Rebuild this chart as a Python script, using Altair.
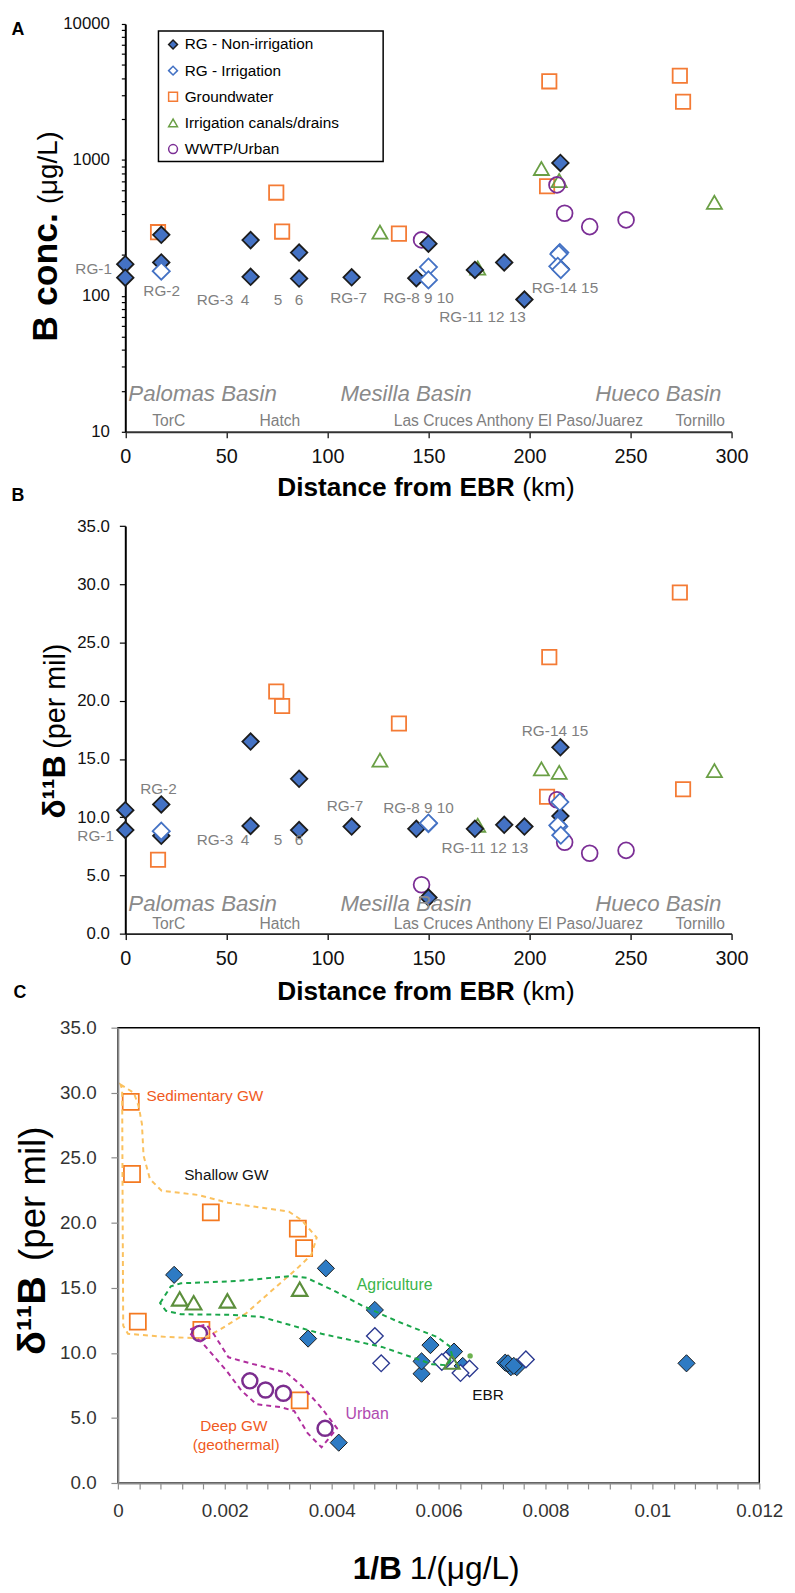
import altair as alt
import pandas as pd

FONT = "Liberation Sans"
W, H = 787, 1585


def P(v):
    return v - 8


CATS = ["RG - Non-irrigation", "RG - Irrigation", "Groundwater",
        "Irrigation canals/drains", "WWTP/Urban"]

# ---------------- samples (distance km, B conc ug/L, d11B per mil) ----------------
rgn_km = [0, 0, 17.8, 17.8, 62, 62, 86, 86, 112, 144, 150, 173, 187.5, 197.5, 215.3, 215.3]
rgn_b = [171, 136, 281, 176, 257, 138, 208, 134, 137, 135, 242, 155, 176, 94, 950, 159]
rgn_d = [10.6, 8.9, 11.1, 8.4, 16.5, 9.25, 13.3, 8.9, 9.2, 9.0, 3.1, 9.0, 9.35, 9.2, 16.0, 10.1]

rgi_km = [17.8, 150, 150, 215, 214.5, 214, 215.5]
rgi_b = [152, 163, 131, 208, 203, 165, 156]
rgi_d = [8.8, 9.45, 9.5, 11.3, 9.2, 9.3, 8.45]

gw_km = [16.2, 74.7, 77.6, 135.4, 208.7, 209.8, 274.4, 276.0]
gw_b = [294, 575, 297, 287, 640, 3785, 4160, 2680]
gw_d = [6.35, 20.8, 19.55, 18.05, 11.76, 23.75, 29.3, 12.4]

can_km = [126, 174.4, 205.9, 214.7, 291.5]
can_b = [294, 160, 865, 705, 488]
can_d = [14.9, 9.3, 14.15, 13.85, 14.0]

ww_km = [146.6, 213.6, 217.4, 229.8, 247.8]
ww_b = [258, 655, 405, 323, 362]
ww_d = [4.2, 11.5, 7.85, 6.9, 7.15]

# ---------------- annotation texts ----------------
labA_c_txt = ["RG-2", "RG-3", "4", "5", "6", "RG-7"]
labA_c_km = [18, 44.4, 59.2, 75.6, 85.9, 110.5]
labA_c_b = [109, 93.5, 93.5, 93.5, 93.5, 97]
labA_l_txt = ["RG-8 9 10", "RG-11 12 13", "RG-14 15"]
labA_l_km = [127.6, 155.3, 201.1]
labA_l_b = [97, 70, 115]
labA_r_txt = ["RG-1"]
labA_r_km = [-6.6]
labA_r_b = [158]

labB_c_txt = ["RG-2", "RG-3", "4", "5", "6", "RG-7"]
labB_c_km = [16.4, 44.4, 59.2, 75.6, 85.9, 108.7]
labB_c_d = [12.4, 8.0, 8.0, 8.0, 8.0, 10.97]
labB_l_txt = ["RG-8 9 10", "RG-11 12 13", "RG-14 15"]
labB_l_km = [127.6, 156.5, 196.2]
labB_l_d = [10.77, 7.37, 17.37]
labB_r_txt = ["RG-1"]
labB_r_km = [-5.6]
labB_r_d = [8.35]

basin_txt = ["Palomas Basin", "Mesilla Basin", "Hueco Basin"]
basin_km = [1.5, 106.5, 232.5]
basinA_b = [18.8, 18.8, 18.8]
basinB_d = [2.55, 2.55, 2.55]

town_txt = ["TorC", "Hatch", "Las Cruces Anthony El Paso/Juarez", "Tornillo"]
town_km = [21.5, 76.5, 194.5, 284.5]
townA_b = [12.06, 12.06, 12.06, 12.06]
townB_d = [0.85, 0.85, 0.85, 0.85]

# panel C labels (x = 1/B, y = d11B)
labC_orange_txt = ["Sedimentary GW", "Deep GW", "(geothermal)"]
labC_orange_x = [0.000537, 0.00154, 0.0014]
labC_orange_y = [29.76, 4.37, 2.93]
labC_black_txt = ["Shallow GW", "EBR"]
labC_black_x = [0.00124, 0.00663]
labC_black_y = [23.67, 6.74]
labC_green_txt = ["Agriculture"]
labC_green_x = [0.00447]
labC_green_y = [15.19]
labC_purple_txt = ["Urban"]
labC_purple_x = [0.00426]
labC_purple_y = [5.29]

# dashed envelopes in panel C
env_sed_x = [0.00005, 0.0003, 0.00039, 0.00045, 0.00048, 0.0006, 0.00082, 0.0015, 0.00206,
             0.0032, 0.00344, 0.00372, 0.00362, 0.00334, 0.00287, 0.0024, 0.00193, 0.0016,
             0.0009, 0.00019, 0.0001, 0.00009, 0.00008]
env_sed_y = [30.63, 29.98, 28.94, 27.6, 25.18, 23.36, 22.46, 22.14, 21.54,
             20.86, 20.2, 18.87, 17.54, 16.44, 14.75, 13.05, 11.84, 11.11,
             11.23, 11.47, 12.08, 20.0, 30.27]
env_agr_x = [0.00079, 0.00099, 0.00118, 0.00221, 0.00325, 0.00353, 0.004, 0.00456, 0.00522,
             0.00597, 0.00621, 0.00626, 0.00616, 0.00588, 0.0056, 0.00494, 0.00381, 0.00269,
             0.00212, 0.00118, 0.0009]
env_agr_y = [13.83, 15.11, 15.35, 15.52, 15.91, 15.77, 14.87, 13.66, 12.44,
             11.23, 10.5, 9.66, 9.05, 9.12, 9.53, 10.46, 11.47, 12.76,
             12.93, 12.97, 13.24]
env_urb_x = [0.00137, 0.00165, 0.00179, 0.00207, 0.0025, 0.00315, 0.00344, 0.00381, 0.0041,
             0.00381, 0.00355, 0.0033, 0.00306, 0.00259, 0.00231, 0.00203, 0.00156, 0.00135]
env_urb_y = [11.84, 12.2, 11.47, 9.66, 9.17, 8.49, 7.47, 5.77, 4.2,
             2.74, 3.83, 5.53, 5.82, 6.06, 7.11, 8.64, 10.86, 11.47]

dot_x = [0.00659]
dot_y = [9.77]

# ---------------- build sample table ----------------
Z_AB = {CATS[2]: 0, CATS[3]: 1, CATS[4]: 2, CATS[0]: 3, CATS[1]: 4}
Z_C = {CATS[0]: 0, CATS[1]: 1, CATS[2]: 2, CATS[3]: 3, CATS[4]: 4}
rows = []
for cat, kms, bs, ds in [(CATS[0], rgn_km, rgn_b, rgn_d), (CATS[1], rgi_km, rgi_b, rgi_d),
                         (CATS[2], gw_km, gw_b, gw_d), (CATS[3], can_km, can_b, can_d),
                         (CATS[4], ww_km, ww_b, ww_d)]:
    for k, b, d in zip(kms, bs, ds):
        rows.append({"cat": cat, "km": k, "B": b, "d11B": d, "zA": Z_AB[cat], "zC": Z_C[cat]})
df = pd.DataFrame(rows)

SHAPES = ["diamond", "diamond", "square", "triangle-up", "circle"]
STROKE_AB = ["#1c1c1c", "#4472C4", "#F47B35", "#6A9F45", "#7B2E95"]
FILL_AB = ["#4472C4", "white", "transparent", "transparent", "transparent"]
# size / stroke width indexed by draw-order code (GW, canal, WWTP, RG-non, RG-irr)
SIZE_AB = [210, 300, 250, 200, 180]
SW_AB = [1.8, 1.8, 1.8, 1, 1.8]
STROKE_C = ["#1a1a1a", "#2B3990", "#F47920", "#5C8F3C", "#7B2D8E"]
FILL_C = ["#2E7BC4", "white", "transparent", "transparent", "transparent"]
# indexed by zC (RG-non, RG-irr, GW, canal, WWTP)
SIZE_C = [300, 230, 300, 420, 380]
SW_C = [1, 2.5, 2.8, 2.8, 2.8]

# page geometry of panel C
C_TOP, C_BOT = 1030, 1490

# ---------------- scales / axes ----------------
log_vals = [m * 10 ** e for e in range(1, 4) for m in range(1, 10)] + [10000]

axA_x = alt.Axis(orient="bottom", offset=P(428) - H, values=list(range(0, 301, 50)), grid=False,
                 domainColor="#333", domainWidth=2, tickColor="#333", tickWidth=1.5, tickSize=6,
                 labelFont=FONT, labelFontSize=20, labelColor="#111", labelPadding=9,
                 labelFlush=False, labelOverlap=False)
axA_y = alt.Axis(orient="left", offset=-P(126.5), values=log_vals, format="d", grid=False,
                 labelExpr="indexof([10,100,1000,10000], datum.value) >= 0 ? datum.label : ''",
                 domainColor="black", domainWidth=2, tickColor="black", tickWidth=1.2, tickSize=4,
                 labelFont=FONT, labelFontSize=17, labelColor="#111", labelPadding=12,
                 labelFlush=False, labelOverlap=False)
axB_x = alt.Axis(orient="bottom", offset=P(935) - H, values=list(range(0, 301, 50)), grid=False,
                 domainColor="#222", domainWidth=2, tickColor="#222", tickWidth=1.5, tickSize=6,
                 labelFont=FONT, labelFontSize=20, labelColor="#111", labelPadding=9,
                 labelFlush=False, labelOverlap=False)
axB_y = alt.Axis(orient="left", offset=-P(126.5), values=list(range(0, 36, 5)), format=".1f", grid=False,
                 domainColor="black", domainWidth=2, tickColor="black", tickWidth=1.2, tickSize=6,
                 labelFont=FONT, labelFontSize=17, labelColor="#111", labelPadding=10,
                 labelFlush=False, labelOverlap=False)
c_ticks = [round(i * 0.0004, 4) for i in range(31)]
axC_x = alt.Axis(orient="bottom", offset=P(C_BOT) - H, values=c_ticks, grid=False, zindex=1,
                 labelExpr="abs(datum.value*500 - round(datum.value*500)) < 0.000001 ? format(datum.value, '~g') : ''",
                 domainColor="#8c8c8c", domainWidth=2, tickColor="#8c8c8c", tickWidth=1.2, tickSize=6,
                 labelFont=FONT, labelFontSize=19, labelColor="#333", labelPadding=13,
                 labelFlush=False, labelOverlap=False)
axC_y = alt.Axis(orient="left", offset=-P(119), values=list(range(0, 36, 5)), format=".1f", grid=False,
                 zindex=1, domainColor="#8c8c8c", domainWidth=2, tickColor="#8c8c8c", tickWidth=1.2,
                 tickSize=7, labelFont=FONT, labelFontSize=19, labelColor="#333", labelPadding=15,
                 labelFlush=False, labelOverlap=False)


def xA():
    return alt.X("km:Q", title=None, axis=axA_x,
                 scale=alt.Scale(domain=[0, 300], range=[P(126.5), P(739)], nice=False, zero=False))


def yA():
    return alt.Y("B:Q", title=None, axis=axA_y,
                 scale=alt.Scale(type="log", domain=[10, 10000], range=[P(428), P(16)], nice=False))


def xB():
    return alt.X("km:Q", title=None, axis=axB_x,
                 scale=alt.Scale(domain=[0, 300], range=[P(126.5), P(739)], nice=False, zero=False))


def yB():
    return alt.Y("d11B:Q", title=None, axis=axB_y,
                 scale=alt.Scale(domain=[0, 35], range=[P(935), P(523.3)], nice=False, zero=False))


def xC():
    return alt.X("inv:Q", title=None, axis=axC_x,
                 scale=alt.Scale(domain=[0, 0.012], range=[P(119), P(767)], nice=False, zero=False))


def yC():
    return alt.Y("d11B:Q", title=None, axis=axC_y,
                 scale=alt.Scale(domain=[0, 35], range=[P(C_BOT), P(C_TOP)], nice=False, zero=False))


legA = alt.Legend(orient="none", legendX=P(160), legendY=P(22), title=None, direction="vertical",
                  strokeColor="transparent", fillColor="transparent", padding=7, rowPadding=9.4,
                  labelFont=FONT, labelFontSize=15.5, labelColor="black", labelOffset=4, labelLimit=400,
                  symbolSize=80, symbolStrokeWidth=1.5)


def points(xf, yf, stroke_r, fill_r, size_r, sw_r, zfield, legend):
    return dict(
        x=xf(), y=yf(),
        shape=alt.Shape("cat:N", scale=alt.Scale(domain=CATS, range=SHAPES), legend=legend),
        fill=alt.Fill("cat:N", scale=alt.Scale(domain=CATS, range=fill_r), legend=legend),
        stroke=alt.Stroke("cat:N", scale=alt.Scale(domain=CATS, range=stroke_r), legend=legend),
        size=alt.Size(zfield + ":O", scale=alt.Scale(domain=[0, 1, 2, 3, 4], range=size_r), legend=None),
        strokeWidth=alt.StrokeWidth(zfield + ":O", scale=alt.Scale(domain=[0, 1, 2, 3, 4], range=sw_r),
                                    legend=None),
        order=alt.Order(zfield + ":Q"),
    )


def txt_layer(data, xf, yf, **kw):
    base = dict(font=FONT, baseline="middle")
    base.update(kw)
    return alt.Chart(pd.DataFrame(data)).mark_text(**base).encode(x=xf(), y=yf(), text="t:N")


GRAY = "#7f7f7f"

# ---------------- panel A ----------------
ptsA = alt.Chart(df).mark_point(filled=True, opacity=1).encode(
    **points(xA, yA, STROKE_AB, FILL_AB, SIZE_AB, SW_AB, "zA", legA))
panelA = alt.layer(
    ptsA,
    txt_layer({"t": labA_c_txt, "km": labA_c_km, "B": labA_c_b}, xA, yA, fontSize=15.5, color=GRAY, align="center"),
    txt_layer({"t": labA_l_txt, "km": labA_l_km, "B": labA_l_b}, xA, yA, fontSize=15.5, color=GRAY, align="left"),
    txt_layer({"t": labA_r_txt, "km": labA_r_km, "B": labA_r_b}, xA, yA, fontSize=15.5, color=GRAY, align="right"),
    txt_layer({"t": basin_txt, "km": basin_km, "B": basinA_b}, xA, yA, fontSize=22.5, fontStyle="italic",
              color="#8a8a8a", align="left"),
    txt_layer({"t": town_txt, "km": town_km, "B": townA_b}, xA, yA, fontSize=15.8, color=GRAY, align="center"),
)

# ---------------- panel B ----------------
ptsB = alt.Chart(df).mark_point(filled=True, opacity=1).encode(
    **points(xB, yB, STROKE_AB, FILL_AB, SIZE_AB, SW_AB, "zA", None))
panelB = alt.layer(
    ptsB,
    txt_layer({"t": labB_c_txt, "km": labB_c_km, "d11B": labB_c_d}, xB, yB, fontSize=15.5, color=GRAY, align="center"),
    txt_layer({"t": labB_l_txt, "km": labB_l_km, "d11B": labB_l_d}, xB, yB, fontSize=15.5, color=GRAY, align="left"),
    txt_layer({"t": labB_r_txt, "km": labB_r_km, "d11B": labB_r_d}, xB, yB, fontSize=15.5, color=GRAY, align="right"),
    txt_layer({"t": basin_txt, "km": basin_km, "d11B": basinB_d}, xB, yB, fontSize=22.5, fontStyle="italic",
              color="#8a8a8a", align="left"),
    txt_layer({"t": town_txt, "km": town_km, "d11B": townB_d}, xB, yB, fontSize=15.8, color=GRAY, align="center"),
)

# ---------------- panel C ----------------
frameC = alt.Chart(pd.DataFrame({"inv": [0.0], "inv2": [0.012], "d11B": [0.0], "d2": [35.0]})).mark_rect(
    fill="transparent", stroke="black", strokeWidth=1.5).encode(x=xC(), x2="inv2:Q", y=yC(), y2="d2:Q")


def env_layer(xs, ys, color):
    d = pd.DataFrame({"inv": xs, "d11B": ys, "i": list(range(len(xs)))})
    return alt.Chart(d).mark_line(strokeDash=[5, 4], strokeWidth=2, color=color,
                                  interpolate="linear-closed").encode(x=xC(), y=yC(), order="i:Q")


ptsC = alt.Chart(df).transform_calculate(inv="1/datum.B").mark_point(filled=True, opacity=1).encode(
    **points(xC, yC, STROKE_C, FILL_C, SIZE_C, SW_C, "zC", None))
dotC = alt.Chart(pd.DataFrame({"inv": dot_x, "d11B": dot_y})).mark_circle(
    size=30, color="#6DB24F", opacity=1).encode(x=xC(), y=yC())

panelC = alt.layer(
    frameC,
    ptsC,
    dotC,
    env_layer(env_sed_x, env_sed_y, "#FBC15E"),
    env_layer(env_agr_x, env_agr_y, "#1AA64A"),
    env_layer(env_urb_x, env_urb_y, "#B02E9E"),
    txt_layer({"t": labC_orange_txt, "inv": labC_orange_x, "d11B": labC_orange_y}, xC, yC,
              fontSize=15.5, color="#F05A22", align="left"),
    txt_layer({"t": labC_black_txt, "inv": labC_black_x, "d11B": labC_black_y}, xC, yC,
              fontSize=15.5, color="#111", align="left"),
    txt_layer({"t": labC_green_txt, "inv": labC_green_x, "d11B": labC_green_y}, xC, yC,
              fontSize=16, color="#3BB44A", align="left"),
    txt_layer({"t": labC_purple_txt, "inv": labC_purple_x, "d11B": labC_purple_y}, xC, yC,
              fontSize=16, color="#B04AB0", align="left"),
)


# ---------------- titles, panel letters, legend frame ----------------
def ptext(t, xpage, ypage, **kw):
    base = dict(font=FONT, color="black")
    base.update(kw)
    return alt.Chart(pd.DataFrame({"t": [t]})).mark_text(**base).encode(
        x=alt.value(P(xpage)), y=alt.value(P(ypage)), text="t:N")


legend_frame = alt.Chart(pd.DataFrame({"t": ["frame"]})).mark_rect(
    fill="white", stroke="black", strokeWidth=1.5).encode(
    x=alt.value(P(160)), x2=alt.value(P(387)), y=alt.value(P(23)), y2=alt.value(P(155)))

titles = [
    ptext("A", 18, 22, fontSize=18, fontWeight="bold", align="center", baseline="middle"),
    ptext("B", 18, 493, fontSize=18, fontWeight="bold", align="center", baseline="middle"),
    ptext("C", 20, 995, fontSize=18, fontWeight="bold", align="center", baseline="middle"),
    # panel A
    ptext("B conc.", 57, 337, fontSize=36, fontWeight="bold", angle=270, align="left", baseline="alphabetic"),
    ptext("(μg/L)", 57, 198, fontSize=28, angle=270, align="left", baseline="alphabetic"),
    ptext("Distance from EBR", 520, 493, fontSize=26.5, fontWeight="bold", align="right", baseline="alphabetic"),
    ptext("(km)", 527.5, 493, fontSize=26.5, align="left", baseline="alphabetic"),
    # panel B (anchored at the upper end of each piece)
    ptext("(per mil)", 66, 642, fontSize=29, angle=270, align="right", baseline="alphabetic"),
    ptext("δ¹¹B", 66, 755, fontSize=32, fontWeight="bold", angle=270, align="right", baseline="alphabetic"),
    ptext("Distance from EBR", 520, 1002, fontSize=26.5, fontWeight="bold", align="right", baseline="alphabetic"),
    ptext("(km)", 527.5, 1002, fontSize=26.5, align="left", baseline="alphabetic"),
    # panel C
    ptext("(per mil)", 45, 1130, fontSize=37, angle=270, align="right", baseline="alphabetic"),
    ptext("δ¹¹B", 45, 1281, fontSize=40, fontWeight="bold", angle=270, align="right", baseline="alphabetic"),
    ptext("1/B", 406, 1587, fontSize=32, fontWeight="bold", align="right", baseline="alphabetic"),
    ptext("1/(μg/L)", 414, 1587, fontSize=32, align="left", baseline="alphabetic"),
]

chart = alt.layer(legend_frame, panelA, panelB, panelC, *titles).resolve_scale(
    x="independent", y="independent", shape="independent", fill="independent",
    stroke="independent", size="independent", strokeWidth="independent"
).properties(
    width=W, height=H, padding=0, autosize=alt.AutoSizeParams(type="none"), background="white"
).configure_view(stroke="transparent")

chart.save("out.html", embed_options={"renderer": "svg", "actions": False})
